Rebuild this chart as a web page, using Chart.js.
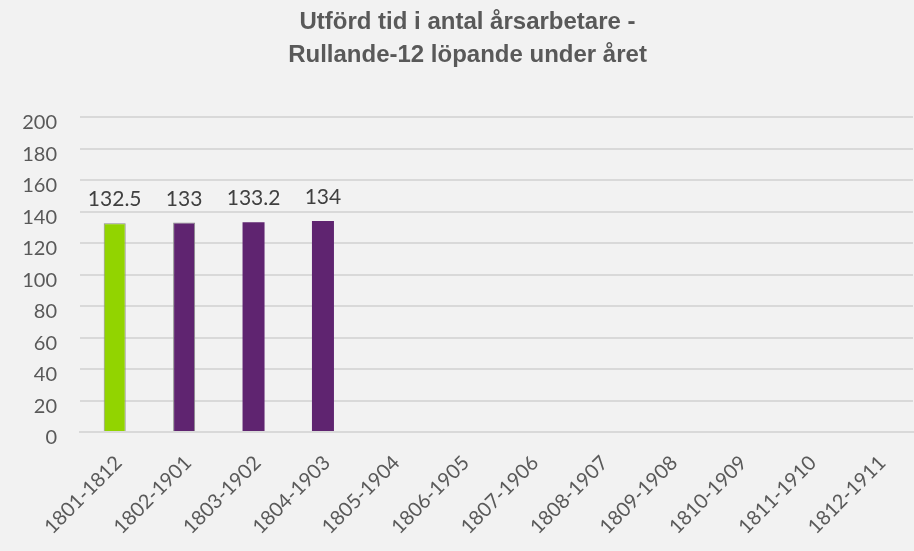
<!DOCTYPE html>
<html>
<head>
<meta charset="utf-8">
<script src="https://cdn.jsdelivr.net/npm/chart.js@4"></script>
<style>
  html, body { margin: 0; padding: 0; background: #f2f2f2; }
  #wrap { width: 914px; height: 551px; }
</style>
</head>
<body>
<div id="wrap"><canvas id="chart" width="914" height="551"></canvas></div>
<script>
const categories = ['1801-1812', '1802-1901', '1803-1902', '1804-1903', '1805-1904', '1806-1905',
  '1807-1906', '1808-1907', '1809-1908', '1810-1909', '1811-1910', '1812-1911'];
const values = [132.5, 133, 133.2, 134, null, null, null, null, null, null, null, null];
const barColors = ['#92d400', '#5f2470', '#5f2470', '#5f2470', '#5f2470', '#5f2470',
  '#5f2470', '#5f2470', '#5f2470', '#5f2470', '#5f2470', '#5f2470'];
const barBorders = [1, 1, 0, 0, 0, 0, 0, 0, 0, 0, 0, 0];
const yTicks = [0, 20, 40, 60, 80, 100, 120, 140, 160, 180, 200];

// labels above bars
const valueLabels = {
  id: 'valueLabels',
  afterDatasetsDraw(chart) {
    const ctx = chart.ctx;
    const meta = chart.getDatasetMeta(0);
    ctx.save();
    ctx.font = '21px Lato, sans-serif';
    ctx.fillStyle = '#404040';
    ctx.textAlign = 'center';
    ctx.textBaseline = 'alphabetic';
    meta.data.forEach((bar, i) => {
      if (values[i] == null) return;
      ctx.fillText(String(values[i]), bar.x, bar.y - 17);
    });
    ctx.restore();
  }
};

new Chart(document.getElementById('chart').getContext('2d'), {
  type: 'bar',
  data: {
    labels: categories,
    datasets: [{
      data: values,
      backgroundColor: barColors,
      borderColor: '#8c8c8c',
      borderWidth: barBorders,
      barPercentage: 1,
      categoryPercentage: 0.317
    }]
  },
  options: {
    responsive: false,
    animation: false,
    layout: { padding: { left: 22, right: 1, top: 6, bottom: 0 } },
    plugins: {
      legend: { display: false },
      tooltip: { enabled: false },
      title: {
        display: true,
        text: ['Utförd tid i antal årsarbetare -', 'Rullande-12 löpande under året'],
        color: '#595959',
        font: { family: '"Liberation Sans", Arial, sans-serif', size: 24, weight: 'bold', lineHeight: 1.375 },
        padding: { top: 0, bottom: 45 }
      }
    },
    scales: {
      x: {
        grid: { display: false },
        border: { color: '#d9d9d9', width: 2 },
        afterFit(scale) {
          scale.paddingLeft = 0;
          scale.paddingRight = 0;
          scale.height = 119;
        },
        ticks: {
          color: '#595959',
          font: { family: 'Lato, sans-serif', size: 20 },
          minRotation: 45,
          maxRotation: 45,
          autoSkip: false,
          padding: 11,
          labelOffset: 4
        }
      },
      y: {
        min: 0,
        max: 200,
        afterBuildTicks(axis) { axis.ticks = yTicks.map(v => ({ value: v })); },
        afterFit(scale) { scale.width = 58; },
        grid: { color: '#d9d9d9', lineWidth: 2, drawTicks: false },
        border: { display: false },
        ticks: {
          color: '#595959',
          padding: 23,
          labelOffset: 6,
          font: { family: 'Lato, sans-serif', size: 20 }
        }
      }
    }
  },
  plugins: [valueLabels]
});
</script>
</body>
</html>
